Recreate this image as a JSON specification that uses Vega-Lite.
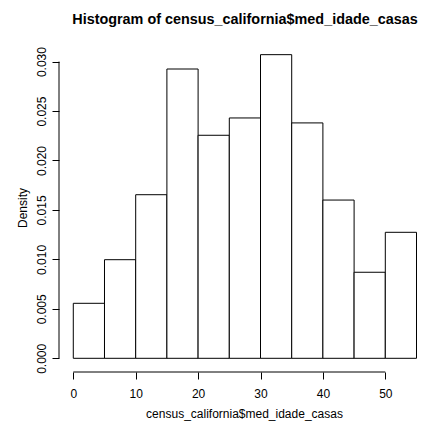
{
  "$schema": "https://vega.github.io/schema/vega-lite/v6.json",
  "autosize": {"type": "none"},
  "padding": {"left": 59, "top": 43, "right": 1, "bottom": 61},
  "width": 365,
  "height": 329,
  "background": "white",
  "config": {
    "view": {"stroke": null},
    "font": "Liberation Sans",
    "axis": {"grid": false, "domain": false, "tickColor": "black", "tickSize": 7, "labelColor": "black", "labelFontSize": 12, "labelFont": "Liberation Sans", "titleFont": "Liberation Sans", "titleFontSize": 12, "titleFontWeight": "normal", "titleColor": "black"}
  },
  "title": {"text": "Histogram of census_california$med_idade_casas", "fontSize": 14.4, "fontWeight": "bold", "font": "Liberation Sans", "color": "black", "anchor": "middle", "frame": "group", "baseline": "alphabetic", "offset": 5, "dx": 3.5},
  "datasets": {
    "bins": [
      {"start": 0, "end": 5, "density": 0.00556},
      {"start": 5, "end": 10, "density": 0.00997},
      {"start": 10, "end": 15, "density": 0.01654},
      {"start": 15, "end": 20, "density": 0.02925},
      {"start": 20, "end": 25, "density": 0.02255},
      {"start": 25, "end": 30, "density": 0.0243},
      {"start": 30, "end": 35, "density": 0.0307},
      {"start": 35, "end": 40, "density": 0.0238},
      {"start": 40, "end": 45, "density": 0.016},
      {"start": 45, "end": 50, "density": 0.0087},
      {"start": 50, "end": 55, "density": 0.01274}
    ],
    "xaxisline": [{"start": 0, "end": 50, "density": -0.001385}],
    "yaxisline": [{"start": -2.29, "density": 0, "density2": 0.03}]
  },
  "encoding": {
    "x": {"field": "start", "type": "quantitative",
          "scale": {"domain": [-2.29, 56.2], "nice": false, "zero": false},
          "axis": {"values": [0, 10, 20, 30, 40, 50], "title": "census_california$med_idade_casas", "labelPadding": 9, "titleX": 185, "titleY": 45, "titleAlign": "center", "titleBaseline": "alphabetic", "labelFlush": false}},
    "y": {"field": "density", "type": "quantitative",
          "scale": {"domain": [-0.001385, 0.03188], "nice": false, "zero": false},
          "axis": {"values": [0, 0.005, 0.01, 0.015, 0.02, 0.025, 0.03], "format": ".3f", "title": "Density", "labelAngle": -90, "labelAlign": "center", "labelBaseline": "middle", "labelPadding": 11, "titleX": -37, "titleBaseline": "middle", "labelFlush": false}}
  },
  "layer": [
    {
      "data": {"name": "bins"},
      "mark": {"type": "rect", "fill": "white", "stroke": "black", "strokeWidth": 1, "clip": false},
      "encoding": {
        "x2": {"field": "end"},
        "y2": {"datum": 0}
      }
    },
    {
      "data": {"name": "xaxisline"},
      "mark": {"type": "rule", "color": "black", "strokeWidth": 1},
      "encoding": {
        "x2": {"field": "end"}
      }
    },
    {
      "data": {"name": "yaxisline"},
      "mark": {"type": "rule", "color": "black", "strokeWidth": 1},
      "encoding": {
        "y2": {"field": "density2"}
      }
    }
  ]
}
